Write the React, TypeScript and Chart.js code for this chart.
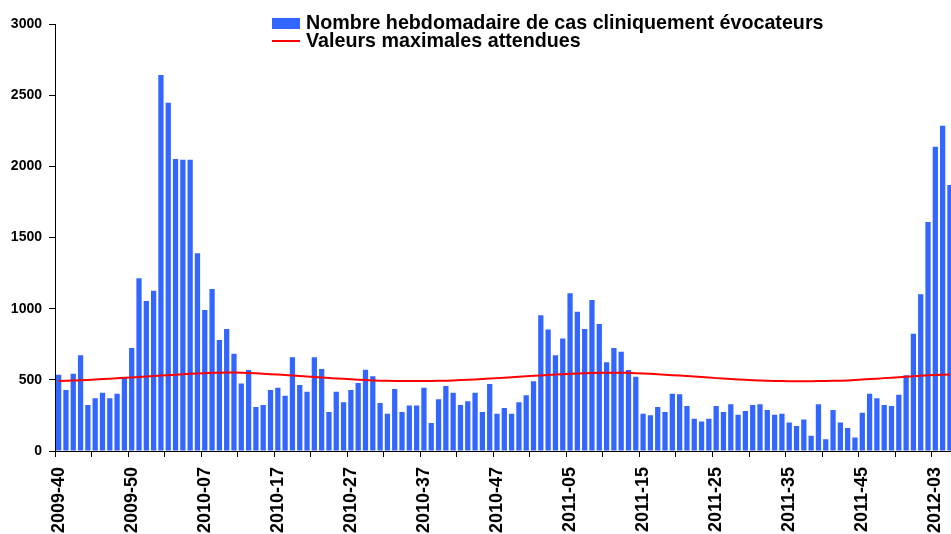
import React, { useEffect, useRef } from "react";
import { Chart, registerables } from "chart.js";

Chart.register(...registerables);

// Week ranges (year, first week, last week) making up the categories
const weekRanges: [number, number, number][] = [
  [2009, 40, 53],
  [2010, 1, 52],
  [2011, 1, 52],
  [2012, 1, 5],
];

const categories: string[] = [];
weekRanges.forEach(([y, a, b]) => {
  for (let w = a; w <= b; w++) categories.push(`${y}-${String(w).padStart(2, "0")}`);
});

const tickLabels = [
  "2009-40", "2009-50", "2010-07", "2010-17", "2010-27", "2010-37", "2010-47",
  "2011-05", "2011-15", "2011-25", "2011-35", "2011-45", "2012-03",
];

const weeklyCases = [
  536, 428, 543, 672, 323, 370, 410, 370, 403, 513,
  724, 1213, 1054, 1126, 2642, 2447, 2052, 2047, 2047, 1389,
  991, 1138, 780, 857, 684, 475, 569, 309, 323, 428,
  445, 389, 658, 464, 417, 658, 576, 274, 417, 342,
  428, 478, 571, 525, 337, 262, 436, 274, 319, 319,
  445, 197, 363, 457, 410, 323, 349, 410, 274, 471,
  262, 302, 262, 342, 391, 490, 953, 853, 672, 791,
  1108, 979, 857, 1061, 892, 623, 724, 698, 569, 522,
  262, 251, 309, 274, 403, 398, 316, 227, 208, 227,
  316, 274, 328, 255, 281, 323, 328, 288, 255, 262,
  201, 176, 222, 108, 328, 82, 288, 201, 162, 94,
  269, 403, 370, 323, 316, 396, 532, 824, 1101, 1609,
  2138, 2286, 1869,
];

const expectedMax = [
  491, 493, 495, 497, 499, 502, 505, 508, 511, 514,
  517, 520, 524, 527, 530, 533, 536, 539, 542, 545,
  547, 549, 550, 551, 551, 550, 548, 546, 543, 540,
  537, 534, 531, 527, 524, 520, 516, 513, 510, 507,
  504, 501, 498, 496, 494, 493, 492, 491, 491, 491,
  491, 492, 493, 494, 496, 498, 500, 503, 506, 509,
  512, 515, 519, 522, 525, 528, 531, 534, 537, 540,
  542, 544, 546, 548, 549, 550, 550, 550, 549, 547,
  545, 542, 539, 536, 533, 530, 527, 524, 520, 516,
  512, 509, 506, 503, 500, 497, 495, 493, 492, 491,
  490, 490, 490, 490, 491, 492, 493, 494, 496, 499,
  502, 505, 508, 512, 515, 519, 522, 526, 529, 532,
  534, 536, 538,
];

const seriesNames = [
  "Nombre hebdomadaire de cas cliniquement évocateurs",
  "Valeurs maximales attendues",
];

const yTicks = [0, 500, 1000, 1500, 2000, 2500, 3000];

const FONT = "'Liberation Sans', Arial, sans-serif";
const BLUE = "#3366FF";
const RED = "#FF0000";

const legendPlugin = {
  id: "customLegend",
  afterDraw(chart: any) {
    const ctx = chart.ctx;
    ctx.save();
    ctx.fillStyle = BLUE;
    ctx.fillRect(272, 18, 28, 11);
    ctx.strokeStyle = RED;
    ctx.lineWidth = 2;
    ctx.beginPath();
    ctx.moveTo(272, 41);
    ctx.lineTo(300, 41);
    ctx.stroke();
    ctx.fillStyle = "#000";
    ctx.font = `bold 19.7px ${FONT}`;
    ctx.textBaseline = "alphabetic";
    ctx.textAlign = "left";
    ctx.fillText(seriesNames[0], 306, 29);
    ctx.fillText(seriesNames[1], 306, 47);
    ctx.restore();
  },
};

export default function App() {
  const ref = useRef<HTMLCanvasElement>(null);

  useEffect(() => {
    if (!ref.current) return;
    const chart = new Chart(ref.current, {
      type: "bar",
      data: {
        labels: categories,
        datasets: [
          {
            type: "line",
            label: seriesNames[1],
            data: expectedMax,
            borderColor: RED,
            backgroundColor: RED,
            borderWidth: 2,
            pointRadius: 0,
            tension: 0,
            fill: false,
          } as any,
          {
            type: "bar",
            label: seriesNames[0],
            data: weeklyCases,
            backgroundColor: BLUE,
            borderWidth: 0,
            barPercentage: 0.72,
            categoryPercentage: 1,
          },
        ],
      },
      options: {
        animation: false,
        responsive: false,
        devicePixelRatio: 1,
        layout: { padding: { left: 0, top: 24, right: 6.4, bottom: 0 } },
        plugins: {
          legend: { display: false },
          tooltip: { enabled: false },
        },
        scales: {
          x: {
            type: "category",
            offset: true,
            grid: {
              offset: true,
              drawOnChartArea: false,
              drawTicks: true,
              tickLength: 6,
              tickColor: (c: any) => (c.index % 5 === 0 ? "#000" : "rgba(0,0,0,0)"),
            },
            border: { color: "#000", width: 1 },
            ticks: {
              autoSkip: false,
              minRotation: 90,
              maxRotation: 90,
              padding: 10,
              color: "#000",
              font: { family: FONT, size: 18, weight: "bold" },
              callback: (_v: any, i: number) =>
                tickLabels.includes(categories[i]) ? categories[i] : "",
            },
            afterFit: (s: any) => {
              s.height = 83;
              s.paddingLeft = 0;
              s.paddingRight = 0;
            },
          },
          y: {
            min: 0,
            max: 3000,
            afterBuildTicks: (s: any) => {
              s.ticks = yTicks.map((v) => ({ value: v }));
            },
            grid: {
              drawOnChartArea: false,
              drawTicks: true,
              tickLength: 6,
              tickColor: "#000",
            },
            border: { color: "#000", width: 1 },
            ticks: {
              padding: 7,
              color: "#000",
              font: { family: FONT, size: 14, weight: "bold" },
              callback: (v: any) => String(v),
            },
            afterFit: (s: any) => {
              s.width = 55;
              s.paddingTop = 0;
              s.paddingBottom = 0;
            },
          },
        },
      },
      plugins: [legendPlugin],
    });
    return () => chart.destroy();
  }, []);

  return (
    <div
      style={{
        position: "absolute",
        left: 0,
        top: 0,
        width: 951,
        height: 534,
        overflow: "hidden",
        background: "#fff",
      }}
    >
      <canvas ref={ref} width={960} height={534} style={{ display: "block", width: 960, height: 534 }} />
    </div>
  );
}
